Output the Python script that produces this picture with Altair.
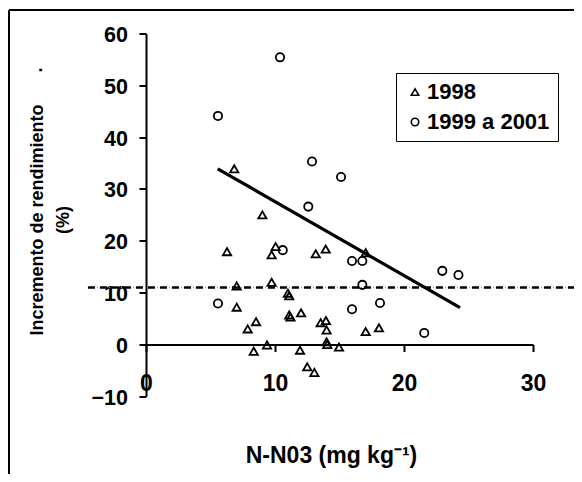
import altair as alt
import pandas as pd

# ---- data ----
series = ["1998", "1999 a 2001"]

x_1998 = [6.84, 9.02, 6.28, 10.05, 9.74, 13.16, 13.93, 17.03, 7.03, 9.74,
          11.0, 11.1, 11.1, 11.2, 12.02, 13.54, 13.95, 14.0, 14.0, 14.05,
          14.96, 11.94, 8.35, 9.38, 12.5, 13.05, 8.53, 7.88, 7.03, 17.03, 18.06]
y_1998 = [33.9, 25.0, 17.9, 18.9, 17.3, 17.5, 18.4, 17.7, 11.3, 12.0,
          9.9, 9.4, 5.7, 5.3, 6.1, 4.2, 4.6, 2.8, 0.5, 0.0,
          -0.5, -1.1, -1.3, -0.1, -4.3, -5.4, 4.4, 3.0, 7.2, 2.5, 3.2]

x_9901 = [10.39, 5.58, 12.87, 15.12, 12.58, 10.6, 15.97, 16.77, 16.77, 5.58,
          15.97, 18.14, 22.97, 24.22, 21.57]
y_9901 = [55.4, 44.1, 35.3, 32.3, 26.6, 18.2, 16.1, 16.1, 11.5, 7.9,
          6.8, 8.0, 14.2, 13.4, 2.2]

trend_x = [5.56, 24.34]
trend_y = [33.9, 7.1]

ref_x = [-4.5, 33.6]
ref_y = [11, 11]

x_ticks = [0, 10, 20, 30]
y_ticks = [-10, 0, 10, 20, 30, 40, 50, 60]

FONT = "Liberation Sans"

pts = pd.DataFrame({
    "x": x_1998 + x_9901,
    "y": y_1998 + y_9901,
    "serie": [series[0]] * len(x_1998) + [series[1]] * len(x_9901),
})
trend = pd.DataFrame({"x": trend_x, "y": trend_y})
ref = pd.DataFrame({"x": ref_x, "y": ref_y})

xs = alt.Scale(domain=[0, 30], nice=False, zero=False)
ys = alt.Scale(domain=[-10, 60], nice=False, zero=False)

x_axis = alt.Axis(
    values=x_ticks, offset=-51.8, tickSize=7, tickWidth=2, tickColor="black",
    domainWidth=2, domainColor="black", labelPadding=21, labelFontSize=23,
    labelFont=FONT, labelFontWeight="bold", labelColor="black",
    labelFlush=False, labelOverlap=False, grid=False,
    title="N-N03 (mg kg⁻¹)", titleFont=FONT, titleFontSize=23,
    titleFontWeight="bold", titleColor="black", titleX=185, titleY=118,
    titleBaseline="alphabetic", titleAlign="center",
)
y_axis = alt.Axis(
    values=y_ticks, tickSize=7, tickWidth=2, tickColor="black",
    domainWidth=2, domainColor="black", labelPadding=11.5, labelFontSize=21.5,
    labelFont=FONT, labelFontWeight="bold", labelColor="black",
    labelOffset=2, labelFlush=False, labelOverlap=False, grid=False,
    title=["Incremento de rendimiento", "(%)"], titleFont=FONT,
    titleFontSize=18, titleFontWeight="bold", titleColor="black",
    titleAngle=270, titleX=-118, titleY=186, titleBaseline="top",
    titleAlign="center", titleLineHeight=26,
)

points = alt.Chart(pts).mark_point(
    filled=False, color="black", strokeWidth=1.8, opacity=1, size=68
).encode(
    x=alt.X("x:Q", scale=xs, axis=x_axis),
    y=alt.Y("y:Q", scale=ys, axis=y_axis),
    shape=alt.Shape(
        "serie:N",
        scale=alt.Scale(domain=series, range=["triangle-up", "circle"]),
        legend=alt.Legend(
            title=None, orient="none", legendX=250, legendY=39.5,
            strokeColor="black", padding=8, rowPadding=8,
            labelFont=FONT, labelFontSize=22, labelFontWeight="bold",
            labelColor="black", labelOffset=1, symbolSize=55,
            symbolStrokeColor="black", symbolStrokeWidth=1.6,
            symbolFillColor="white",
        ),
    ),
)

ref_dots = alt.Chart(ref).mark_line(
    color="#9a9a9a", strokeWidth=1.5, strokeDash=[1, 2], clip=False
).encode(x=alt.X("x:Q", scale=xs), y=alt.Y("y:Q", scale=ys))

ref_line = alt.Chart(ref).mark_line(
    color="black", strokeWidth=2.6, strokeDash=[7, 5], clip=False
).encode(x=alt.X("x:Q", scale=xs), y=alt.Y("y:Q", scale=ys))

trend_line = alt.Chart(trend).mark_line(
    color="black", strokeWidth=3.2
).encode(x=alt.X("x:Q", scale=xs), y=alt.Y("y:Q", scale=ys))

blank = alt.Data(values=[{}])
frame_top = alt.Chart(blank).mark_rule(color="black", strokeWidth=2).encode(
    x=alt.value(-137), x2=alt.value(440), y=alt.value(-23.5)
)
frame_left = alt.Chart(blank).mark_rule(color="black", strokeWidth=2).encode(
    x=alt.value(-137), y=alt.value(-23.5), y2=alt.value(450)
)
stray_dot = alt.Chart(blank).mark_text(
    text=".", font=FONT, fontSize=18, fontWeight="bold", color="black",
    angle=270, baseline="middle", align="center"
).encode(x=alt.value(-109), y=alt.value(36.5))

chart = alt.layer(
    ref_dots, ref_line, trend_line, points, frame_top, frame_left, stray_dot
).properties(
    width=387, height=362.8,
    autosize=alt.AutoSizeParams(type="none"),
    padding={"left": 138, "top": 25.5, "right": 41, "bottom": 77.7},
    background="white",
).configure_view(stroke=None)

chart.save("out.html", embed_options={"renderer": "svg", "actions": False})
